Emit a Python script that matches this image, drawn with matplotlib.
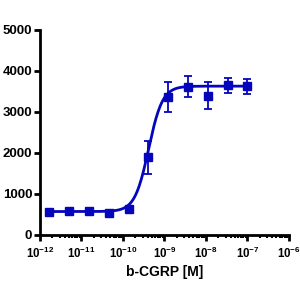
import numpy as np
import matplotlib
matplotlib.use("Agg")
import matplotlib.pyplot as plt
from matplotlib.ticker import LogLocator, NullFormatter, FixedLocator

plt.rcParams['font.family'] = ['Liberation Sans', 'DejaVu Sans']
plt.rcParams['font.weight'] = 'bold'
plt.rcParams['mathtext.fontset'] = 'custom'
plt.rcParams['mathtext.rm'] = 'Liberation Sans:bold'

# b-CGRP concentration (M), 3-fold dilutions
conc = [1.69e-12, 5.08e-12, 1.52e-11, 4.57e-11, 1.37e-10, 4.12e-10,
        1.23e-9, 3.70e-9, 1.11e-8, 3.33e-8, 1.0e-7]
response = [570, 580, 575, 535, 630, 1890, 3360, 3620, 3400, 3650, 3630]
err = [30, 30, 30, 30, 40, 400, 360, 260, 320, 190, 180]

# fitted sigmoid parameters
bottom = 570
top = 3630
log_ec50 = -9.38
hill = 2.6

xtick_pos = [1e-12, 1e-11, 1e-10, 1e-9, 1e-8, 1e-7, 1e-6]
xtick_lab = [r'$\mathregular{10^{-12}}$', r'$\mathregular{10^{-11}}$', r'$\mathregular{10^{-10}}$',
             r'$\mathregular{10^{-9}}$', r'$\mathregular{10^{-8}}$', r'$\mathregular{10^{-7}}$',
             r'$\mathregular{10^{-6}}$']
ytick_pos = [0, 1000, 2000, 3000, 4000, 5000]

col = '#0505bb'

fig = plt.figure(figsize=(3, 3), dpi=100)
ax = fig.add_axes([0.133, 0.217, 0.83, 0.683])

xf = np.logspace(np.log10(conc[0]), np.log10(conc[-1]), 300)
yf = bottom + (top - bottom) / (1 + 10 ** ((log_ec50 - np.log10(xf)) * hill))
ax.plot(xf, yf, color=col, lw=2)
ax.errorbar(conc, response, yerr=err, fmt='s', color=col, ms=6,
            elinewidth=1.3, capsize=3, capthick=1.3)

ax.set_xscale('log')
ax.set_xlim(1e-12, 1e-6)
ax.set_ylim(0, 5000)
ax.xaxis.set_major_locator(FixedLocator(xtick_pos))
ax.set_xticklabels(xtick_lab)
ax.xaxis.set_minor_locator(LogLocator(base=10, subs=np.arange(2, 10)))
ax.xaxis.set_minor_formatter(NullFormatter())
ax.set_yticks(ytick_pos)

for s in ['top', 'right']:
    ax.spines[s].set_visible(False)
for s in ['left', 'bottom']:
    ax.spines[s].set_linewidth(2)
ax.tick_params(axis='y', which='major', width=2, length=4, pad=1.5, labelsize=9.5)
ax.tick_params(axis='x', which='major', width=2, length=4, pad=4, labelsize=8.3)
ax.tick_params(axis='x', which='minor', width=1.5, length=2.5)
ax.set_xlabel('b-CGRP [M]', fontsize=10, fontweight='bold', labelpad=3)

fig.savefig('out.png', dpi=100)
